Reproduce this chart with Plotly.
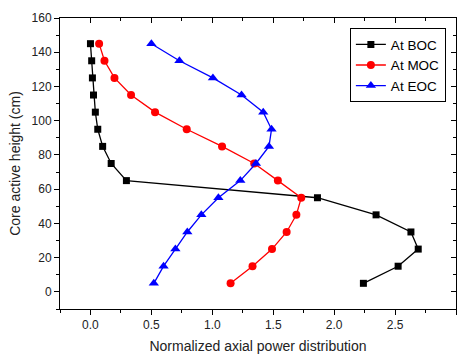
import plotly.graph_objects as go

heights = [145, 135, 125, 115, 105, 95, 85, 75, 65, 55, 45, 35, 25, 15, 5]
boc = [0.00, 0.01, 0.016, 0.025, 0.04, 0.06, 0.10, 0.17, 0.295, 1.863, 2.344, 2.63, 2.69, 2.525, 2.24]
moc = [0.071, 0.115, 0.197, 0.333, 0.53, 0.79, 1.08, 1.344, 1.538, 1.73, 1.69, 1.61, 1.49, 1.33, 1.15]
eoc = [0.50, 0.73, 1.005, 1.24, 1.418, 1.486, 1.465, 1.358, 1.23, 1.05, 0.91, 0.795, 0.697, 0.60, 0.52]

series = [
    ("At BOC", boc, "black", "square", 7),
    ("At MOC", moc, "red", "circle", 8),
    ("At EOC", eoc, "blue", "triangle-up", 9),
]

fig = go.Figure()
for name, vals, col, sym, sz in series:
    fig.add_trace(go.Scatter(
        x=vals, y=heights, name=name, mode="lines+markers",
        line=dict(color=col, width=1.3),
        marker=dict(color=col, symbol=sym, size=sz),
    ))
# empty trace to activate mirrored top/right axes
fig.add_trace(go.Scatter(x=[], y=[], xaxis="x2", yaxis="y2", showlegend=False))

font = "Liberation Sans, Arial, sans-serif"
fig.update_layout(
    width=464, height=354,
    margin=dict(l=60, r=8, t=18, b=45),
    paper_bgcolor="white", plot_bgcolor="white",
    font=dict(family=font, size=12, color="#222"),
    showlegend=True,
    legend=dict(x=0.732, y=0.965, xanchor="left", yanchor="top",
                bordercolor="black", borderwidth=1, bgcolor="white",
                font=dict(size=13.5, color="black"), tracegroupgap=0,
                itemwidth=30),
    xaxis=dict(range=[-0.25, 3.0], tickvals=[0, 0.5, 1.0, 1.5, 2.0, 2.5, 3.0],
               ticktext=["0.0", "0.5", "1.0", "1.5", "2.0", "2.5", "3.0"],
               ticks="outside", ticklen=5, tickcolor="black", automargin=False,
               minor=dict(dtick=0.25, tick0=0, ticks="outside", ticklen=3, tickcolor="black"),
               showline=True, linecolor="black", linewidth=1, showgrid=False, zeroline=False,
               title=dict(text="Normalized axial power distribution", font=dict(size=14, color="#222"), standoff=9)),
    yaxis=dict(range=[-10, 160], dtick=20, tick0=0, automargin=False,
               ticks="outside", ticklen=5, tickcolor="black",
               minor=dict(dtick=10, tick0=0, ticks="outside", ticklen=3, tickcolor="black"),
               showline=True, linecolor="black", linewidth=1, showgrid=False, zeroline=False,
               title=dict(text="Core active height (cm)", font=dict(size=14, color="#222"), standoff=7)),
    xaxis2=dict(range=[-0.25, 3.0], overlaying="x", side="top", anchor="y", automargin=False,
                tickvals=[0, 0.5, 1.0, 1.5, 2.0, 2.5, 3.0], showticklabels=False,
                ticks="inside", ticklen=5, tickcolor="black",
                minor=dict(dtick=0.25, tick0=0, ticks="inside", ticklen=3, tickcolor="black"),
                showline=True, linecolor="black", linewidth=1, showgrid=False, zeroline=False),
    yaxis2=dict(range=[-10, 160], overlaying="y", side="right", anchor="x", automargin=False,
                dtick=20, tick0=0, showticklabels=False,
                ticks="inside", ticklen=5, tickcolor="black",
                minor=dict(dtick=10, tick0=0, ticks="inside", ticklen=3, tickcolor="black"),
                showline=True, linecolor="black", linewidth=1, showgrid=False, zeroline=False),
)

fig.write_html("out.html", config={"displayModeBar": False},
               post_script="document.body.style.margin='0';")
